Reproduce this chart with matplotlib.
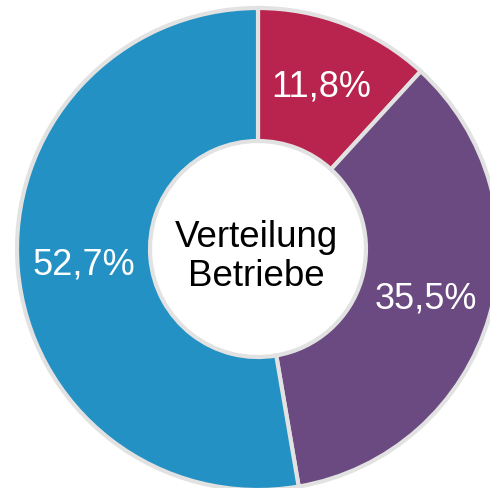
import matplotlib
matplotlib.use("Agg")
import matplotlib.pyplot as plt

categories = ["A", "B", "C"]
values = [11.8, 35.5, 52.7]
colors = ["#B8244E", "#6A4A80", "#2391C4"]
center_text = "Verteilung\nBetriebe"

W, H = 490, 489
cx, cy = 258, 250
R_out, R_in = 243, 108

fig = plt.figure(figsize=(W / 100, H / 100), dpi=100)
ax = fig.add_axes([0, 0, 1, 1])
ax.set_xlim(-cx, W - cx)
ax.set_ylim(-(H - cy), cy)
ax.axis("off")

wedges, texts, autotexts = ax.pie(
    values, colors=colors, startangle=90, counterclock=False,
    radius=R_out - 2, pctdistance=175 / (R_out - 2),
    autopct=lambda p: f"{p:.1f}%".replace(".", ","),
    wedgeprops=dict(width=R_out - R_in - 2, edgecolor="#E2E2E2", linewidth=3.0),
    textprops=dict(color="white", fontsize=26, family="Liberation Sans"),
)
ax.set_xlim(-cx, W - cx)
ax.set_ylim(-(H - cy), cy)
ax.set_aspect("auto")

ax.text(-2, -7, center_text, ha="center", va="center", fontsize=26.5,
        family="Liberation Sans", color="black", linespacing=1.12)

fig.savefig("out.png", dpi=100)
